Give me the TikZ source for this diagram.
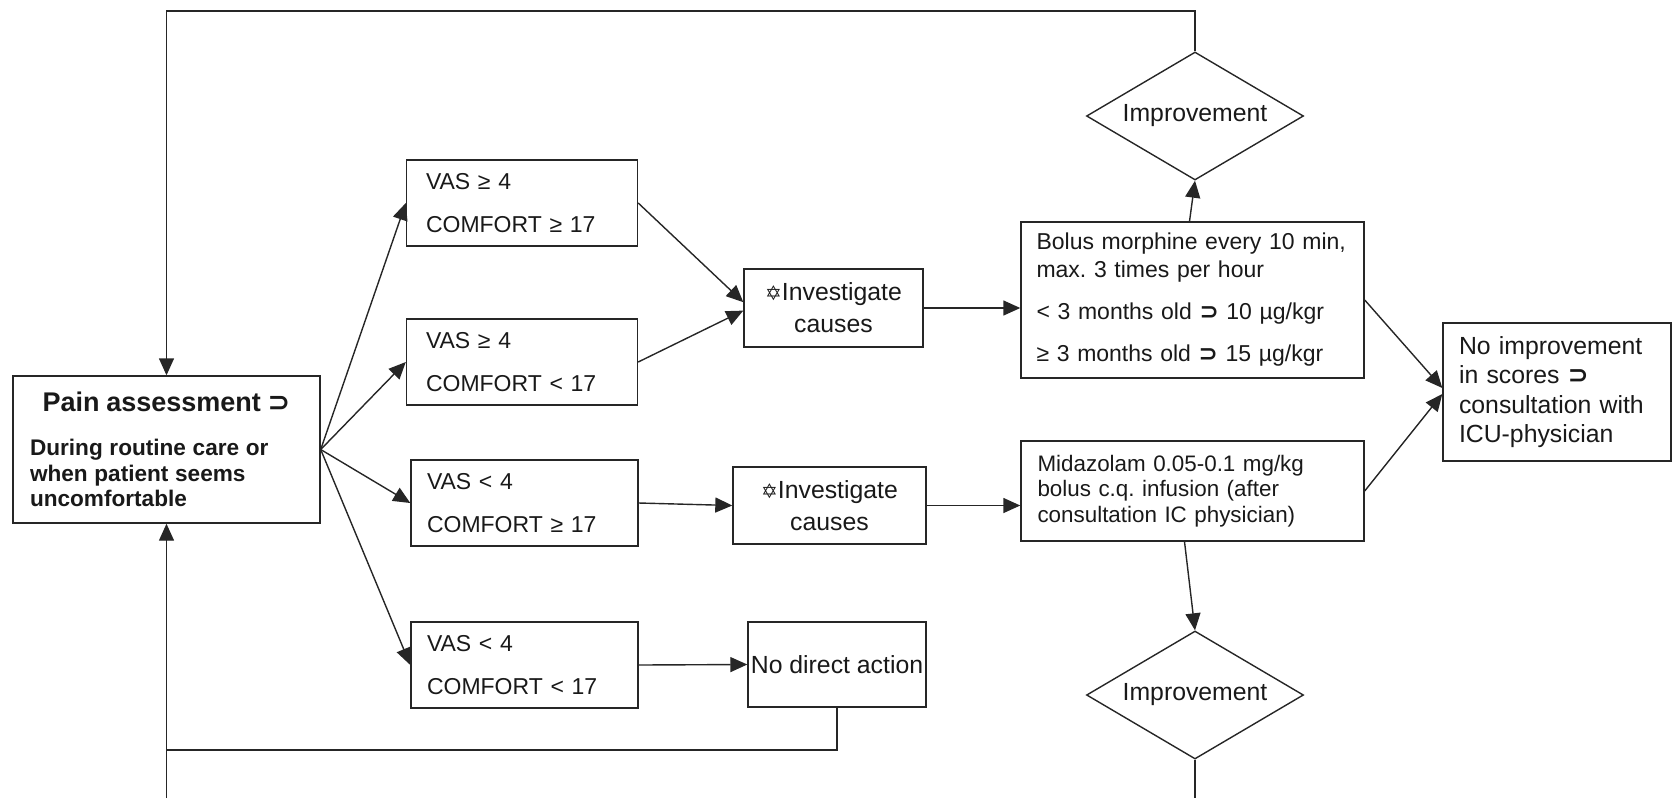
\documentclass[tikz,border=0pt]{standalone}
\usepackage{fontspec}
\setmainfont{Liberation Sans}
\newfontfamily\symfont{DejaVu Sans}
\usetikzlibrary{arrows.meta,shapes.geometric}
\newcommand{\rarr}{{\symfont\bfseries ⊃}}
\newcommand{\dstar}{{\symfont\fontsize{10}{10}\selectfont ✡}}
\frenchspacing

\begin{document}
\begin{tikzpicture}[x=0.5pt,y=-0.5pt]
                \tikzstyle{every node}+=[inner sep=0pt, text=black!90]
                \tikzstyle{line}=[draw=black!85, line width=0.7pt]
                \tikzstyle{flow}=[line, -{Triangle[length=8.5pt,width=7.5pt]}]
                \tikzstyle{box}=[draw=black!85, line width=0.7pt, rectangle]
                \tikzstyle{scorebox}=[box, text width=96pt, inner xsep=9.75pt, minimum height=43pt, align=left, font=\fontsize{11.5}{13.8}\selectfont]
                \tikzstyle{causebox}=[box, align=center, font=\fontsize{12.4}{16}\selectfont]
                \tikzstyle{decision}=[diamond, draw=black!85, line width=0.7pt, aspect=1.7, minimum width=108.5pt, minimum height=64pt, font=\fontsize{12.4}{15}\selectfont]
                \useasboundingbox (0,0) rectangle (1673,798);
                % boxes
                \node [box, text width=136.5pt, inner xsep=8.5pt, minimum height=73.5pt] (pain) at (166.5,449.5) {{\centering\fontsize{13.5}{16}\selectfont\bfseries Pain assessment \rarr\par}\vspace{9.2pt}{\raggedright\fontsize{11.3}{12.85}\selectfont\bfseries During routine care or\\when patient seems\\uncomfortable\par}};
                \node [scorebox] (vas1) at (522,203) {VAS ≥ 4\\[7.7pt]COMFORT ≥ 17};
                \node [scorebox] (vas2) at (522,362) {VAS ≥ 4\\[7.7pt]COMFORT < 17};
                \node [scorebox, text width=97.5pt, inner xsep=8pt] (vas3) at (524.5,503) {VAS < 4\\[7.7pt]COMFORT ≥ 17};
                \node [scorebox, text width=97.5pt, inner xsep=8pt] (vas4) at (524.5,665) {VAS < 4\\[7.7pt]COMFORT < 17};
                \node [causebox, minimum width=89.5pt, minimum height=39pt] (inv1) at (833.5,308) {\dstar Investigate\\causes};
                \node [causebox, minimum width=96.5pt, minimum height=38.5pt] (inv2) at (829.5,505.5) {\dstar Investigate\\causes};
                \node [causebox, minimum width=89pt, minimum height=42.5pt] (nodirect) at (837,664.5) {No direct action};
                \node [box, text width=156pt, inner xsep=7.75pt, minimum height=78pt, align=left, font=\fontsize{11.5}{14}\selectfont] (bolus) at (1192.5,300) {Bolus morphine every 10 min,\\max. 3 times per hour\\[7pt]< 3 months old \rarr{} 10 µg/kgr\\[7pt]≥ 3 months old \rarr{} 15 µg/kgr};
                \node [box, text width=155pt, inner xsep=8.25pt, minimum height=50pt, align=left, font=\fontsize{11.2}{12.8}\selectfont] (mida) at (1192.5,491) {Midazolam 0.05-0.1 mg/kg\\bolus c.q. infusion (after\\consultation IC physician)};
                \node [box, text width=98pt, inner xsep=8pt, minimum height=69pt, align=left, font=\fontsize{12.4}{14.8}\selectfont] (noimp) at (1557,392) {No improvement\\in scores \rarr\\consultation with\\ICU-physician};
                \node [decision] (dtop) at (1195,116) {Improvement};
                \node [decision] (dbot) at (1195,695) {Improvement};
                \coordinate (top) at (166.5,11);
                \coordinate (back) at (166.5,750);
                \coordinate (bottom) at (166.5,798);
                % connectors
                \draw [flow] (pain.east) -- (vas1.west);
                \draw [flow] (pain.east) -- (vas2.west);
                \draw [flow] (pain.east) -- (vas3.west);
                \draw [flow] (pain.east) -- (vas4.west);
                \draw [flow] (vas1.east) -- ([yshift=2.9pt]inv1.west);
                \draw [flow] (vas2.east) -- ([yshift=-1.3pt]inv1.west);
                \draw [flow] (inv1.east) -- (inv1.east -| bolus.west);
                \draw [flow] (vas3.east) -- (inv2.west);
                \draw [flow] (inv2.east) -- (inv2.east -| mida.west);
                \draw [flow] (vas4.east) -- (nodirect.west);
                \draw [flow] ([xshift=-1.5pt]bolus.north) -- (dtop.south);
                \draw [flow] ([xshift=-4pt]mida.south) -- (dbot.north);
                \draw [flow] (bolus.east) -- ([yshift=2pt]noimp.west);
                \draw [flow] (mida.east) -- ([yshift=-1pt]noimp.west);
                % loops back
                \draw [flow] (dtop.north) |- (top) -- (pain.north);
                \draw [flow] (bottom) -- (pain.south);
                \draw [line] (nodirect.south) |- (back);
                \draw [line] (dbot.south) -- (dbot.south |- bottom);
\end{tikzpicture}
\end{document}
